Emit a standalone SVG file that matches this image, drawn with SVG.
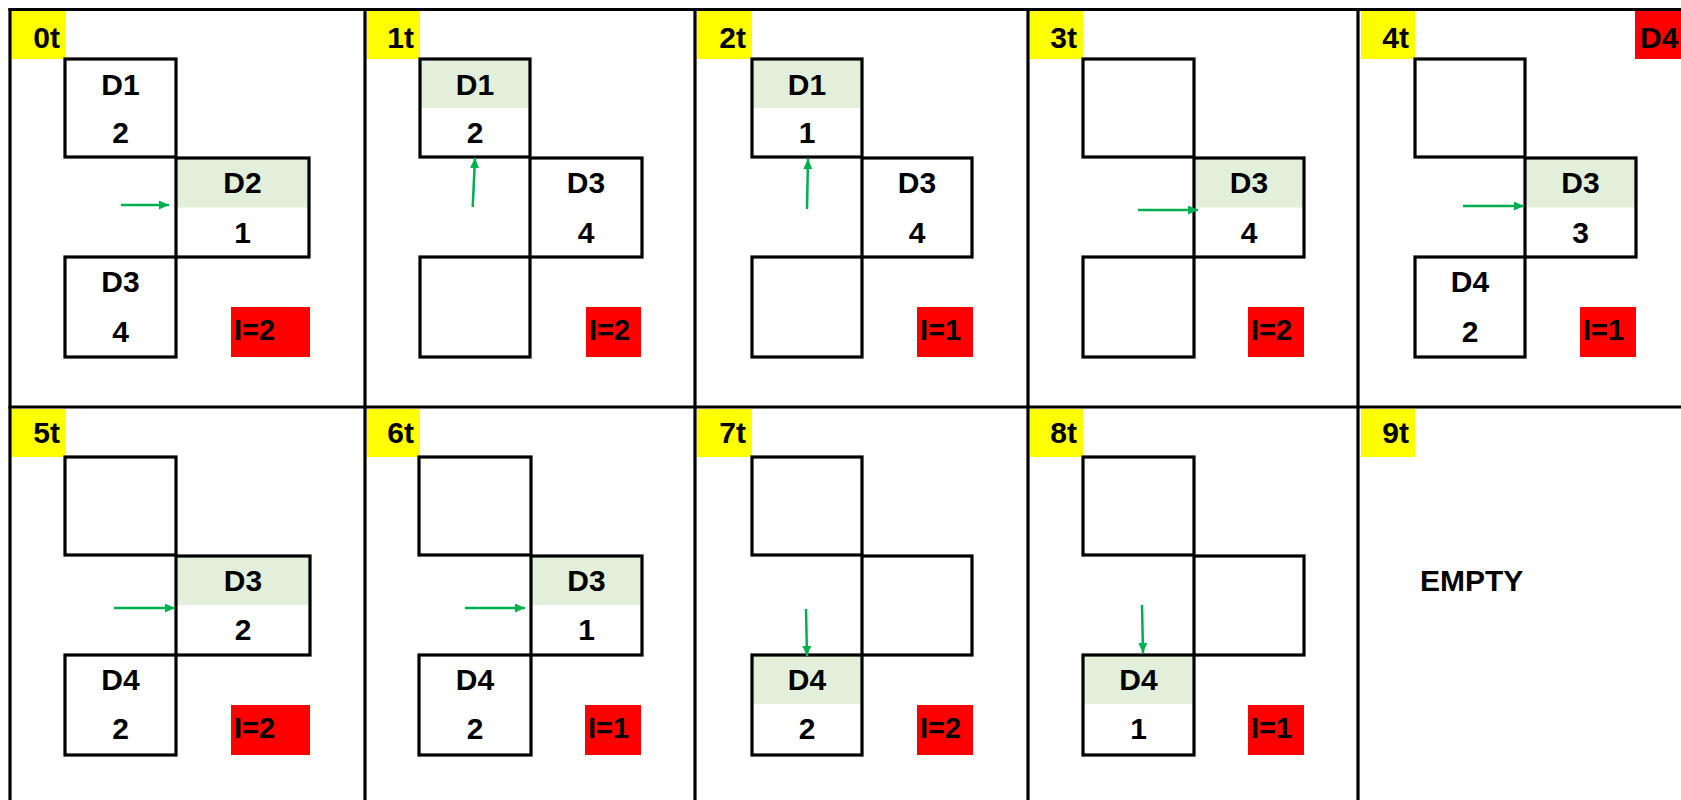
<svg xmlns="http://www.w3.org/2000/svg" width="1681" height="800" viewBox="0 0 1681 800">
<defs>
<style>
.grid{stroke:#000;stroke-width:3.2;fill:none}
.box{fill:none;stroke:#000;stroke-width:3.2}
.hl{fill:#E2EFDA}
.lbl{fill:#FFFF00}
.cnt{fill:#FF0000}
text{font-family:"Liberation Sans",Arial,sans-serif;font-weight:bold;font-size:30px;fill:#000}
.c{text-anchor:middle}
.e{text-anchor:end}
.i{font-size:29px}
.arr{stroke:#00B050;stroke-width:2.5;fill:none;marker-end:url(#ah)}
</style>
<marker id="ah" markerUnits="userSpaceOnUse" markerWidth="11" markerHeight="10" refX="10" refY="4.5" orient="auto">
<path d="M0,0 L10,4.5 L0,9 Z" fill="#00B050"/>
</marker>
</defs>
<rect width="1681" height="800" fill="#fff"/>

<g id="grid">
<line class="grid" x1="8.5" y1="9.5" x2="1681" y2="9.5"/>
<line class="grid" x1="8.5" y1="407" x2="1681" y2="407"/>
<line class="grid" x1="10" y1="8" x2="10" y2="800"/>
<line class="grid" x1="365" y1="8" x2="365" y2="800"/>
<line class="grid" x1="695" y1="8" x2="695" y2="800"/>
<line class="grid" x1="1028" y1="8" x2="1028" y2="800"/>
<line class="grid" x1="1358" y1="8" x2="1358" y2="800"/>
</g>

<!-- Panel 0 -->
<g id="panel-0">
<g id="p0-label"><rect class="lbl" x="12" y="11" width="54" height="48"/><text class="e" x="60" y="48">0t</text></g>
<g id="p0-D1"><rect class="box" x="65" y="59" width="111" height="98"/><text class="c" x="120.5" y="95">D1</text><text class="c" x="120.5" y="143">2</text></g>
<g id="p0-D2"><rect class="hl" x="176" y="158" width="133" height="49.5"/><rect class="box" x="176" y="158" width="133" height="99"/><text class="c" x="242.5" y="193">D2</text><text class="c" x="242.5" y="243">1</text></g>
<g id="p0-D3"><rect class="box" x="65" y="257" width="111" height="100"/><text class="c" x="120.5" y="292">D3</text><text class="c" x="120.5" y="342">4</text></g>
<g id="p0-I"><rect class="cnt" x="231" y="307" width="79" height="50"/><text class="i" x="234" y="340">I=2</text></g>
</g>

<!-- Panel 1 -->
<g id="panel-1">
<g id="p1-label"><rect class="lbl" x="367" y="11" width="53" height="48"/><text class="e" x="414" y="48">1t</text></g>
<g id="p1-D1"><rect class="hl" x="420" y="59" width="110" height="49"/><rect class="box" x="420" y="59" width="110" height="98"/><text class="c" x="475" y="95">D1</text><text class="c" x="475" y="143">2</text></g>
<g id="p1-D3"><rect class="box" x="530" y="158" width="112" height="99"/><text class="c" x="586" y="193">D3</text><text class="c" x="586" y="243">4</text></g>
<g id="p1-C"><rect class="box" x="420" y="257" width="110" height="100"/></g>
<g id="p1-I"><rect class="cnt" x="586" y="307" width="55" height="50"/><text class="i" x="589" y="340">I=2</text></g>
</g>

<!-- Panel 2 -->
<g id="panel-2">
<g id="p2-label"><rect class="lbl" x="697" y="11" width="55" height="48"/><text class="e" x="746" y="48">2t</text></g>
<g id="p2-D1"><rect class="hl" x="752" y="59" width="110" height="49"/><rect class="box" x="752" y="59" width="110" height="98"/><text class="c" x="807" y="95">D1</text><text class="c" x="807" y="143">1</text></g>
<g id="p2-D3"><rect class="box" x="862" y="158" width="110" height="99"/><text class="c" x="917" y="193">D3</text><text class="c" x="917" y="243">4</text></g>
<g id="p2-C"><rect class="box" x="752" y="257" width="110" height="100"/></g>
<g id="p2-I"><rect class="cnt" x="917" y="307" width="56" height="50"/><text class="i" x="920" y="340">I=1</text></g>
</g>

<!-- Panel 3 -->
<g id="panel-3">
<g id="p3-label"><rect class="lbl" x="1030" y="11" width="53" height="48"/><text class="e" x="1077" y="48">3t</text></g>
<g id="p3-A"><rect class="box" x="1083" y="59" width="111" height="98"/></g>
<g id="p3-D3"><rect class="hl" x="1194" y="158" width="110" height="49.5"/><rect class="box" x="1194" y="158" width="110" height="99"/><text class="c" x="1249" y="193">D3</text><text class="c" x="1249" y="243">4</text></g>
<g id="p3-C"><rect class="box" x="1083" y="257" width="111" height="100"/></g>
<g id="p3-I"><rect class="cnt" x="1248" y="307" width="56" height="50"/><text class="i" x="1251" y="340">I=2</text></g>
</g>

<!-- Panel 4 -->
<g id="panel-4">
<g id="p4-label"><rect class="lbl" x="1361" y="11" width="54" height="48"/><text class="e" x="1409" y="48">4t</text></g>
<g id="p4-A"><rect class="box" x="1415" y="59" width="110" height="98"/></g>
<g id="p4-D3"><rect class="hl" x="1525" y="158" width="111" height="49.5"/><rect class="box" x="1525" y="158" width="111" height="99"/><text class="c" x="1580.5" y="193">D3</text><text class="c" x="1580.5" y="243">3</text></g>
<g id="p4-D4"><rect class="box" x="1415" y="257" width="110" height="100"/><text class="c" x="1470" y="292">D4</text><text class="c" x="1470" y="342">2</text></g>
<g id="p4-I"><rect class="cnt" x="1580" y="307" width="56" height="50"/><text class="i" x="1583" y="340">I=1</text></g>
<g id="p4-new"><rect class="cnt" x="1635" y="11" width="46" height="48"/><text x="1640" y="48">D4</text></g>
</g>

<!-- Panel 5 -->
<g id="panel-5">
<g id="p5-label"><rect class="lbl" x="12" y="409" width="54" height="48"/><text class="e" x="60" y="443">5t</text></g>
<g id="p5-A"><rect class="box" x="65" y="457" width="111" height="98"/></g>
<g id="p5-D3"><rect class="hl" x="176" y="556" width="134" height="49"/><rect class="box" x="176" y="556" width="134" height="99"/><text class="c" x="243" y="591">D3</text><text class="c" x="243" y="640">2</text></g>
<g id="p5-D4"><rect class="box" x="65" y="655" width="111" height="100"/><text class="c" x="120.5" y="690">D4</text><text class="c" x="120.5" y="739">2</text></g>
<g id="p5-I"><rect class="cnt" x="231" y="705" width="79" height="50"/><text class="i" x="234" y="738">I=2</text></g>
</g>

<!-- Panel 6 -->
<g id="panel-6">
<g id="p6-label"><rect class="lbl" x="367" y="409" width="53" height="48"/><text class="e" x="414" y="443">6t</text></g>
<g id="p6-A"><rect class="box" x="419" y="457" width="112" height="98"/></g>
<g id="p6-D3"><rect class="hl" x="531" y="556" width="111" height="49"/><rect class="box" x="531" y="556" width="111" height="99"/><text class="c" x="586.5" y="591">D3</text><text class="c" x="586.5" y="640">1</text></g>
<g id="p6-D4"><rect class="box" x="419" y="655" width="112" height="100"/><text class="c" x="475" y="690">D4</text><text class="c" x="475" y="739">2</text></g>
<g id="p6-I"><rect class="cnt" x="585" y="705" width="56" height="50"/><text class="i" x="588" y="738">I=1</text></g>
</g>

<!-- Panel 7 -->
<g id="panel-7">
<g id="p7-label"><rect class="lbl" x="697" y="409" width="55" height="48"/><text class="e" x="746" y="443">7t</text></g>
<g id="p7-A"><rect class="box" x="752" y="457" width="110" height="98"/></g>
<g id="p7-B"><rect class="box" x="862" y="556" width="110" height="99"/></g>
<g id="p7-D4"><rect class="hl" x="752" y="655" width="110" height="49"/><rect class="box" x="752" y="655" width="110" height="100"/><text class="c" x="807" y="690">D4</text><text class="c" x="807" y="739">2</text></g>
<g id="p7-I"><rect class="cnt" x="917" y="705" width="56" height="50"/><text class="i" x="920" y="738">I=2</text></g>
</g>

<!-- Panel 8 -->
<g id="panel-8">
<g id="p8-label"><rect class="lbl" x="1030" y="409" width="53" height="48"/><text class="e" x="1077" y="443">8t</text></g>
<g id="p8-A"><rect class="box" x="1083" y="457" width="111" height="98"/></g>
<g id="p8-B"><rect class="box" x="1194" y="556" width="110" height="99"/></g>
<g id="p8-D4"><rect class="hl" x="1083" y="655" width="111" height="49"/><rect class="box" x="1083" y="655" width="111" height="100"/><text class="c" x="1138.5" y="690">D4</text><text class="c" x="1138.5" y="739">1</text></g>
<g id="p8-I"><rect class="cnt" x="1248" y="705" width="56" height="50"/><text class="i" x="1251" y="738">I=1</text></g>
</g>

<!-- Panel 9 -->
<g id="panel-9">
<g id="p9-label"><rect class="lbl" x="1361" y="409" width="54" height="48"/><text class="e" x="1409" y="443">9t</text></g>
<g id="p9-empty"><text x="1420" y="591">EMPTY</text></g>
</g>

<g id="connectors">
<line class="arr" x1="121" y1="205" x2="169" y2="205"/>
<line class="arr" x1="472.7" y1="207" x2="475" y2="158"/>
<line class="arr" x1="807" y1="209" x2="808" y2="159"/>
<line class="arr" x1="1138" y1="210" x2="1198" y2="210"/>
<line class="arr" x1="1463" y1="206" x2="1524" y2="206"/>
<line class="arr" x1="114" y1="608" x2="175" y2="608"/>
<line class="arr" x1="465" y1="608" x2="525" y2="608"/>
<line class="arr" x1="806" y1="609" x2="807" y2="656"/>
<line class="arr" x1="1142" y1="605" x2="1143" y2="653"/>
</g>
</svg>
